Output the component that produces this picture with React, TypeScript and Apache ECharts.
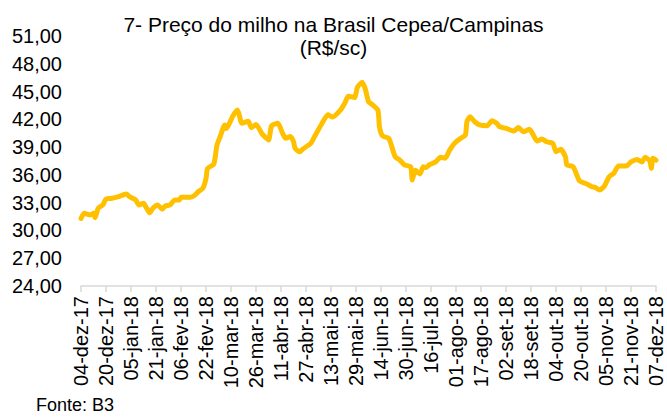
import React, { useEffect, useRef } from "react";
import * as echarts from "echarts";

// Days counted from 04-dez-17 (day 0) to 07-dez-18 (day 368)
const startDate = [2017, 11, 4]; // year, month index, day
const monthNames = ["jan", "fev", "mar", "abr", "mai", "jun", "jul", "ago", "set", "out", "nov", "dez"];

const dayOffsets = [
  0, 2, 6, 8, 9, 11, 14, 16, 20, 24, 29, 31, 35, 37, 40, 42, 44, 46, 49, 52,
  54, 57, 60, 63, 64, 70, 73, 75, 78, 80, 81, 85, 87, 89, 92, 93, 97, 100, 101, 103,
  107, 109, 112, 116, 120, 122, 126, 129, 131, 134, 136, 137, 140, 142, 147, 150, 154, 158, 161, 166,
  169, 171, 175, 177, 180, 182, 184, 186, 190, 191, 193, 197, 201, 204, 207, 211, 212, 214, 217, 219,
  221, 223, 227, 230, 233, 236, 239, 243, 246, 247, 249, 252, 255, 260, 263, 266, 268, 272, 277, 280,
  283, 287, 292, 295, 298, 302, 304, 307, 310, 311, 315, 319, 324, 327, 329, 332, 335, 338, 341, 344,
  349, 352, 356, 359, 361, 364, 365, 366, 368
];

const prices = [
  31.3, 31.85, 31.67, 31.85, 31.38, 32.4, 32.75, 33.4, 33.47, 33.65, 33.94, 33.65, 33.3, 32.75, 32.93, 32.4, 31.9, 32.4, 32.75, 32.3,
  32.64, 32.75, 33.3, 33.3, 33.58, 33.58, 33.83, 34.18, 34.55, 35.6, 36.7, 37.17, 39.2, 40.1, 41.4, 41.0, 42.3, 43.0, 42.65, 41.57,
  41.8, 41.1, 41.45, 40.4, 39.77, 41.3, 41.57, 40.5, 39.95, 40.15, 39.6, 38.87, 38.5, 38.8, 39.4, 40.3, 41.5, 42.5, 42.25, 43.0,
  43.8, 44.5, 44.35, 45.5, 46.0, 45.25, 43.9, 43.65, 43.0, 41.2, 40.2, 39.95, 37.97, 37.6, 37.07, 36.88, 35.45, 36.5, 36.1, 36.88,
  36.8, 37.1, 37.4, 37.9, 37.8, 38.7, 39.4, 39.95, 40.3, 41.74, 42.28, 41.74, 41.4, 41.3, 41.85, 41.57, 41.2, 41.03, 40.74, 41.13,
  40.66, 40.92, 39.66, 39.87, 39.58, 39.4, 38.5, 38.76, 37.97, 37.07, 36.88, 35.37, 35.0, 34.72, 34.65, 34.36, 34.8, 35.8, 36.17, 36.96,
  36.96, 37.4, 37.66, 37.4, 37.9, 37.53, 36.7, 37.8, 37.6
];

const yMin = 24;
const yMax = 51;
const yStep = 3;
const xStep = 16;
const xMax = 368;

const titleLine1 = "7- Preço do milho na Brasil Cepea/Campinas";
const titleLine2 = "(R$/sc)";
const sourceText = "Fonte: B3";

function dayLabel(offset: number): string {
  const d = new Date(startDate[0], startDate[1], startDate[2] + Math.round(offset));
  const dd = String(d.getDate()).padStart(2, "0");
  const yy = String(d.getFullYear()).slice(2);
  return `${dd}-${monthNames[d.getMonth()]}-${yy}`;
}

export default function App() {
  const ref = useRef<HTMLDivElement>(null);
  useEffect(() => {
    document.body.style.margin = "0";
    if (!ref.current) return;
    const chart = echarts.init(ref.current, undefined, { renderer: "svg" });
    const font = "'Liberation Sans', Arial, sans-serif";
    chart.setOption({
      animation: false,
      backgroundColor: "#ffffff",
      title: {
        text: `${titleLine1}\n${titleLine2}`,
        left: "center",
        top: 8,
        textStyle: {
          fontFamily: font,
          fontSize: 21,
          fontWeight: "normal",
          color: "#000",
          lineHeight: 23,
        },
      },
      graphic: [
        {
          type: "text",
          left: 36,
          top: 396,
          style: { text: sourceText, fontFamily: font, fontSize: 18, fill: "#000" },
        },
      ],
      grid: { left: 81, right: 11, top: 36, bottom: 132, containLabel: false },
      xAxis: {
        type: "value",
        min: 0,
        max: xMax,
        interval: xStep,
        splitLine: { show: false },
        axisLine: { show: true, lineStyle: { color: "#d9d9d9", width: 1.5 } },
        axisTick: { show: true, length: 6, lineStyle: { color: "#d9d9d9", width: 1.5 } },
        axisLabel: {
          rotate: 90,
          margin: 10,
          fontFamily: font,
          fontSize: 20,
          color: "#000",
          showMaxLabel: true,
          showMinLabel: true,
          formatter: (v: number) => dayLabel(v),
        },
      },
      yAxis: {
        type: "value",
        min: yMin,
        max: yMax,
        interval: yStep,
        splitLine: { show: false },
        axisLine: { show: false },
        axisTick: { show: false },
        axisLabel: {
          margin: 19,
          fontFamily: font,
          fontSize: 20,
          color: "#000",
          formatter: (v: number) => v.toFixed(2).replace(".", ","),
        },
      },
      series: [
        {
          type: "line",
          data: dayOffsets.map((d, i) => [d, prices[i]]),
          showSymbol: false,
          smooth: 0.2,
          lineStyle: { color: "#FFC000", width: 5, cap: "round", join: "round" },
          itemStyle: { color: "#FFC000" },
        },
      ],
    });
    return () => chart.dispose();
  }, []);
  return <div ref={ref} style={{ width: 667, height: 418 }} />;
}
